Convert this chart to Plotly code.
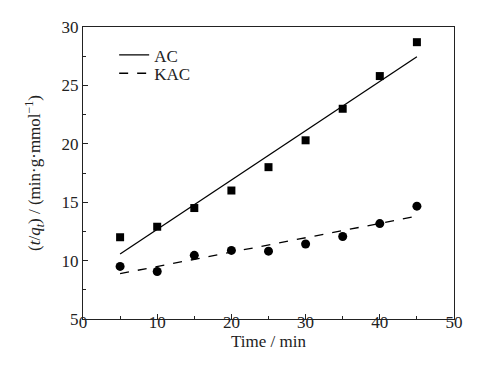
import plotly.graph_objects as go

time_min = [5, 10, 15, 20, 25, 30, 35, 40, 45]
ac_values = [12.0, 12.9, 14.5, 16.0, 18.0, 20.3, 23.0, 25.8, 28.7]
kac_values = [9.5, 9.07, 10.45, 10.87, 10.81, 11.42, 12.06, 13.17, 14.66]

fit_x = [5, 45]
ac_fit = [10.56, 27.45]
kac_fit = [8.88, 13.8]

font_family = "Liberation Serif, Times New Roman, serif"
fsize = 17

fig = go.Figure()
fig.add_trace(go.Scatter(x=fit_x, y=ac_fit, mode="lines", name="AC", legend="legend",
                         line=dict(color="black", width=1.3)))
fig.add_trace(go.Scatter(x=fit_x, y=kac_fit, mode="lines", name="KAC", legend="legend2",
                         line=dict(color="black", width=1.3, dash="dash")))
fig.add_trace(go.Scatter(x=time_min, y=ac_values, mode="markers", showlegend=False,
                         marker=dict(symbol="square", size=8, color="black")))
fig.add_trace(go.Scatter(x=time_min, y=kac_values, mode="markers", showlegend=False,
                         marker=dict(symbol="circle", size=9, color="black")))

axis_common = dict(
    showgrid=False, zeroline=False, showline=True, linecolor="#222", linewidth=1.3,
    mirror=True, ticks="inside", ticklen=5, tickwidth=1.2, tickcolor="#222",
    tickfont=dict(family=font_family, size=fsize, color="#222"),
)

fig.update_xaxes(range=[0, 50], tick0=0, dtick=10, ticklabelstandoff=-13,
                 minor=dict(ticks="inside", ticklen=3, tickwidth=1.2, tickcolor="#222", dtick=5, tick0=0),
                 title=dict(text="Time / min", font=dict(family=font_family, size=fsize, color="#222"), standoff=0),
                 **axis_common)
fig.update_yaxes(range=[5, 30], tick0=5, dtick=5, ticklabelstandoff=0,
                 minor=dict(ticks="inside", ticklen=3, tickwidth=1.2, tickcolor="#222", dtick=2.5, tick0=5),
                 title=dict(text="(<i>t</i>/<i>q</i><sub><i>t</i></sub>) / (min·g·mmol<sup>−1</sup>)",
                            font=dict(family=font_family, size=fsize, color="#222"), standoff=16),
                 **axis_common)

leg_common = dict(xanchor="left", yanchor="middle", bgcolor="rgba(0,0,0,0)",
                  font=dict(family=font_family, size=fsize, color="#222"), itemwidth=30)
fig.update_layout(
    width=491, height=371,
    margin=dict(l=75, r=45, t=10, b=60),
    paper_bgcolor="white", plot_bgcolor="white",
    font=dict(family=font_family, size=fsize, color="#222"),
    legend=dict(x=0.084, y=0.903, **leg_common),
    legend2=dict(x=0.084, y=0.840, **leg_common),
)

fig.write_html("out.html")
